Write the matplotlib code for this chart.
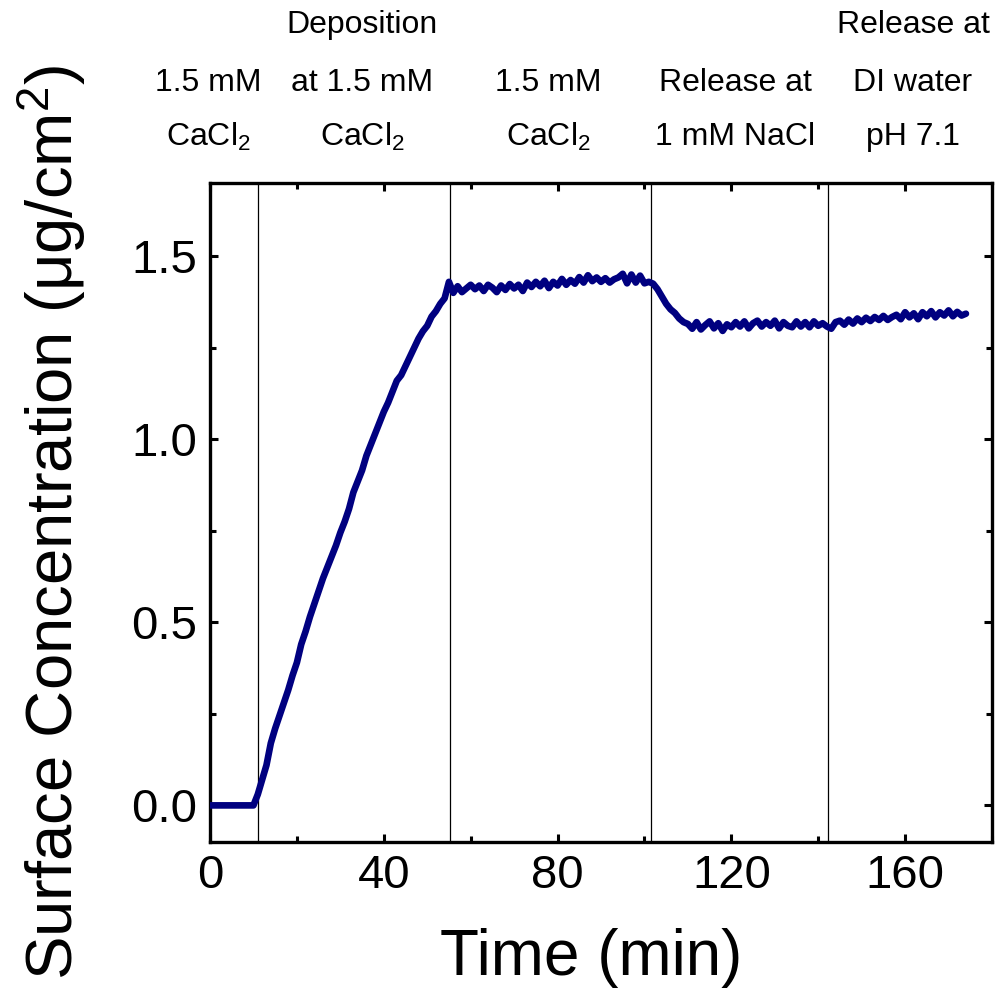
import numpy as np
import matplotlib
matplotlib.use("Agg")
import matplotlib.pyplot as plt
from matplotlib.ticker import MultipleLocator

plt.rcParams['font.family'] = ['Liberation Sans', 'DejaVu Sans']
plt.rcParams['mathtext.fontset'] = 'custom'
plt.rcParams['mathtext.rm'] = 'Liberation Sans'
plt.rcParams['mathtext.it'] = 'Liberation Sans:italic'
plt.rcParams['mathtext.bf'] = 'Liberation Sans:bold'

# ---------------- data ----------------
time_min = np.arange(0, 175, 1.0)
surface_conc = [
    # 0-10
    0.0, 0.0, 0.0, 0.0, 0.0, 0.0, 0.0, 0.0, 0.0, 0.0, 0.0,
    # 11-20
    0.03, 0.07, 0.11, 0.17, 0.21, 0.245, 0.28, 0.315, 0.355, 0.39,
    # 21-30
    0.44, 0.475, 0.515, 0.55, 0.585, 0.62, 0.65, 0.68, 0.71, 0.745,
    # 31-40
    0.775, 0.81, 0.855, 0.885, 0.915, 0.955, 0.985, 1.015, 1.045, 1.075,
    # 41-50
    1.10, 1.13, 1.16, 1.175, 1.20, 1.225, 1.25, 1.275, 1.295, 1.31,
    # 51-60
    1.335, 1.35, 1.37, 1.385, 1.43, 1.40, 1.418, 1.402, 1.412, 1.422,
    # 61-70
    1.41, 1.42, 1.405, 1.422, 1.414, 1.402, 1.42, 1.408, 1.424, 1.412,
    # 71-80
    1.422, 1.405, 1.428, 1.416, 1.43, 1.418, 1.433, 1.413, 1.43, 1.42,
    # 81-90
    1.438, 1.422, 1.435, 1.425, 1.443, 1.428, 1.448, 1.432, 1.442, 1.43,
    # 91-100
    1.44, 1.428, 1.437, 1.442, 1.452, 1.426, 1.45, 1.428, 1.447, 1.426,
    # 101-110
    1.43, 1.425, 1.41, 1.39, 1.37, 1.355, 1.345, 1.33, 1.32, 1.315,
    # 111-120
    1.302, 1.32, 1.3, 1.312, 1.322, 1.303, 1.317, 1.296, 1.314, 1.306,
    # 121-130
    1.32, 1.308, 1.322, 1.303, 1.317, 1.324, 1.308, 1.32, 1.31, 1.324,
    # 131-140
    1.303, 1.32, 1.31, 1.306, 1.322, 1.308, 1.32, 1.306, 1.322, 1.31,
    # 141-150
    1.317, 1.308, 1.302, 1.32, 1.324, 1.313, 1.327, 1.316, 1.33, 1.32,
    # 151-160
    1.332, 1.323, 1.334, 1.326, 1.337, 1.326, 1.334, 1.34, 1.328, 1.347,
    # 161-170
    1.333, 1.344, 1.328, 1.347, 1.336, 1.35, 1.333, 1.347, 1.338, 1.352,
    # 171-174
    1.336, 1.348, 1.338, 1.343,
]
stage_boundaries = [11.0, 55.2, 101.4, 142.3]

stage_label_lines = [
    ["1.5 mM", "CaCl$_2$"],
    ["Deposition", "at 1.5 mM", "CaCl$_2$"],
    ["1.5 mM", "CaCl$_2$"],
    ["Release at", "1 mM NaCl"],
    ["Release at", "DI water", "pH 7.1"],
]
stage_label_x = [208, 362, 548, 735, 913]          # pixel centres

x_ticks = [0, 40, 80, 120, 160]
y_ticks = [0.0, 0.5, 1.0, 1.5]

# ---------------- figure ----------------
W, H = 997, 991
fig = plt.figure(figsize=(W / 100, H / 100), dpi=100)
ax = fig.add_axes([210 / W, 1 - 842 / H, (992 - 210) / W, (842 - 183) / H])

for xb in stage_boundaries:
    ax.axvline(xb, color='black', lw=0.9, zorder=1)

ax.plot(time_min, surface_conc, color='#000080', lw=4.8, zorder=3,
        solid_joinstyle='round', solid_capstyle='round')

ax.set_xlim(0, 180)
ax.set_ylim(-0.1, 1.7)
ax.set_xticks(x_ticks)
ax.set_yticks(y_ticks)
ax.set_yticklabels([f"{v:.1f}" for v in y_ticks])
ax.xaxis.set_minor_locator(MultipleLocator(20))
ax.yaxis.set_minor_locator(MultipleLocator(0.25))

for s in ax.spines.values():
    s.set_linewidth(2.4)

ax.tick_params(which='both', direction='in', top=True, right=True,
               width=2.2, labelsize=34, pad=9)
ax.tick_params(which='major', length=6)
ax.tick_params(which='minor', length=4)

ax.set_xlabel("Time (min)", fontsize=46)
ax.set_ylabel("Surface Concentration (μg/cm$^2$)", fontsize=47)
# label centres in pixel coordinates
ax.xaxis.set_label_coords((591 - 210) / (992 - 210), -(958 - 842) / (842 - 183))
ax.yaxis.set_label_coords(-(210 - 52) / (992 - 210), (842 - 522) / (842 - 183))
ax.xaxis.label.set_va('center')
ax.yaxis.label.set_va('center')

# stage annotations above the axes
row_y = {3: [25, 83, 137], 2: [83, 137]}
for lines, xc in zip(stage_label_lines, stage_label_x):
    ys = row_y[len(lines)]
    for txt, yp in zip(lines, ys):
        fig.text(xc / W, 1 - yp / H, txt, ha='center', va='center', fontsize=23)

fig.savefig("out.png", dpi=100)
